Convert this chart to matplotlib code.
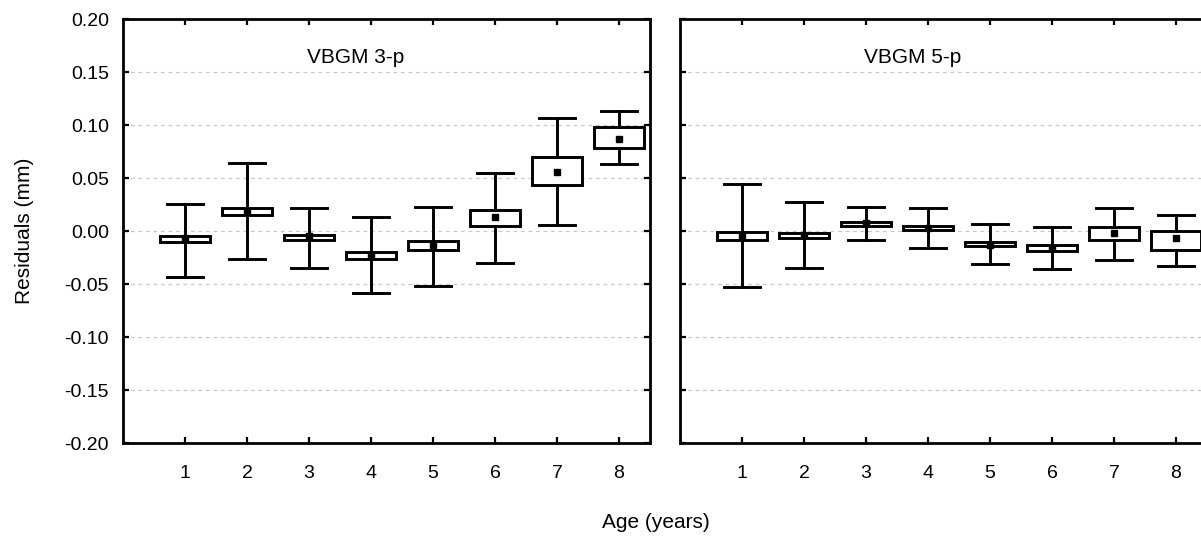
import numpy as np
import matplotlib.pyplot as plt

plt.rcParams['font.family'] = ['Liberation Sans', 'DejaVu Sans']

ages = [1, 2, 3, 4, 5, 6, 7, 8]

# VBGM 3-p residuals
m3_mean = [-0.007, 0.018, -0.005, -0.023, -0.013, 0.013, 0.056, 0.087]
m3_q1 = [-0.010, 0.015, -0.008, -0.026, -0.018, 0.005, 0.043, 0.078]
m3_q3 = [-0.005, 0.022, -0.004, -0.020, -0.009, 0.020, 0.070, 0.098]
m3_lo = [-0.043, -0.026, -0.035, -0.058, -0.052, -0.030, 0.006, 0.063]
m3_hi = [0.026, 0.064, 0.022, 0.013, 0.023, 0.055, 0.107, 0.113]

# VBGM 5-p residuals
m5_mean = [-0.004, -0.004, 0.008, 0.003, -0.013, -0.016, -0.002, -0.007]
m5_q1 = [-0.008, -0.007, 0.005, 0.001, -0.014, -0.019, -0.008, -0.018]
m5_q3 = [-0.001, -0.002, 0.009, 0.005, -0.010, -0.013, 0.004, 0.000]
m5_lo = [-0.053, -0.035, -0.008, -0.016, -0.031, -0.036, -0.027, -0.033]
m5_hi = [0.044, 0.027, 0.023, 0.022, 0.007, 0.004, 0.022, 0.015]

yticks = [-0.20, -0.15, -0.10, -0.05, 0.00, 0.05, 0.10, 0.15, 0.20]


def make_stats(mean, q1, q3, lo, hi):
    stats = []
    for i in range(len(mean)):
        stats.append({'mean': mean[i], 'med': mean[i], 'q1': q1[i], 'q3': q3[i],
                      'whislo': lo[i], 'whishi': hi[i], 'fliers': []})
    return stats


fig = plt.figure(figsize=(12.01, 5.39), dpi=100)
ax1 = fig.add_axes([0.1024, 0.178, 0.4388, 0.7866])
ax2 = fig.add_axes([0.5662, 0.178, 0.4388, 0.7866])

panels = [(ax1, make_stats(m3_mean, m3_q1, m3_q3, m3_lo, m3_hi), 'VBGM 3-p'),
          (ax2, make_stats(m5_mean, m5_q1, m5_q3, m5_lo, m5_hi), 'VBGM 5-p')]

lw = 2.1
for ax, stats, title in panels:
    ax.bxp(stats, positions=ages, widths=0.8, capwidths=0.58,
           showmeans=True, showfliers=False, patch_artist=True,
           boxprops=dict(facecolor='white', edgecolor='black', linewidth=lw),
           whiskerprops=dict(color='black', linewidth=lw),
           capprops=dict(color='black', linewidth=lw),
           medianprops=dict(linewidth=0),
           meanprops=dict(marker='s', markerfacecolor='black',
                          markeredgecolor='black', markersize=4.5),
           zorder=3)
    ax.set_xlim(0, 8.5)
    ax.set_ylim(-0.20, 0.20)
    ax.set_xticks(ages)
    ax.set_xticklabels([str(a) for a in ages])
    ax.set_yticks(yticks)
    ax.yaxis.grid(True, linestyle=(0, (3, 3)), color='#c8c8c8', linewidth=0.9)
    ax.set_axisbelow(True)
    ax.tick_params(direction='in', top=True, right=True, length=4, width=1.6,
                   labelsize=14)
    ax.tick_params(axis='x', pad=16)
    ax.tick_params(axis='y', pad=10)
    for s in ax.spines.values():
        s.set_linewidth(2.0)
    ax.text(3.75, 0.164, title, ha='center', va='center', fontsize=15)

ax1.set_yticklabels(['%.2f' % t for t in yticks])
ax2.set_yticklabels([])
ax1.set_ylabel('Residuals (mm)', fontsize=15, labelpad=22)
fig.text(0.546, 0.031, 'Age (years)', ha='center', va='center', fontsize=15)

fig.savefig('out.png', dpi=100)
